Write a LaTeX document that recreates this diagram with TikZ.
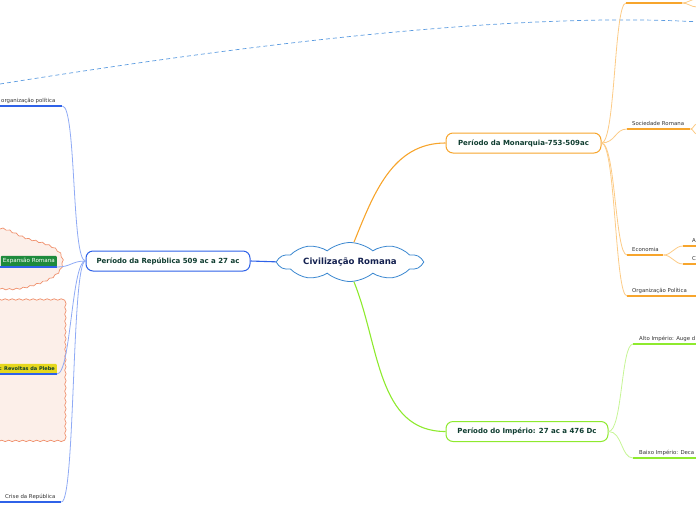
\documentclass[tikz,border=0pt]{standalone}
\usepackage{fontspec}
\setmainfont{DejaVu Sans}
\usetikzlibrary{shapes.symbols,decorations.pathmorphing}
\definecolor{orT}{HTML}{F7A52C}
\definecolor{orL}{HTML}{FCCB86}
\definecolor{grT}{HTML}{8EEA2E}
\definecolor{grL}{HTML}{C6F595}
\definecolor{blT}{HTML}{2F62E8}
\definecolor{blL}{HTML}{8FAAF5}
\definecolor{darkT}{HTML}{0F3D30}
\definecolor{cloudB}{HTML}{3A87D0}
\definecolor{rootT}{HTML}{13204F}
\definecolor{dashB}{HTML}{5B9BE0}
\definecolor{leafT}{HTML}{333333}
\definecolor{blobD}{HTML}{F0906C}
\definecolor{blobF}{HTML}{FCEFE9}
\definecolor{expG}{HTML}{1E8A3C}
\definecolor{revY}{HTML}{E6D81E}
\newcommand\leafbox[3]{\makebox[#1][l]{\hspace*{#2}\smash{#3}}}
\tikzset{
  mainnode/.style={rounded corners=7pt, line width=1pt, fill=white, minimum height=20pt,
    inner sep=2pt, text=darkT, font=\bfseries\fontsize{7}{8}\selectfont},
  leaf/.style={inner xsep=0pt, inner ysep=3pt, text=leafT, font=\fontsize{5.4}{6}\selectfont},
  thickline/.style={line width=1.8pt},
  thinline/.style={line width=0.8pt},
  mainline/.style={line width=1.1pt},
  blob/.style={draw=blobD, fill=blobF, line width=0.7pt, decorate,
    decoration={snake, amplitude=0.7pt, segment length=7pt}}
}
\begin{document}
\begin{tikzpicture}[x=1pt,y=1pt]
\useasboundingbox (0,0) rectangle (696,-520);
% background callouts
\draw[blob] (-6,-230) .. controls (4,-226) and (14,-236) .. (28,-240)
  .. controls (48,-245) and (61,-250) .. (61,-262)
  .. controls (61,-276) and (45,-282) .. (28,-287)
  .. controls (14,-291) and (4,-290) .. (-6,-289) -- cycle;
\draw[blob] (-6,-298) rectangle (62,-440);
% dashed relationship
\coordinate (dA) at (0,-84);
\coordinate (dB) at (700,-22);
\draw[dashB, line width=0.7pt, dash pattern=on 4pt off 3pt] (dA) .. controls (200,-52) and (500,-10) .. (dB);
% main nodes
\node[cloud, cloud puffs=10, cloud puff arc=80, cloud ignores aspect, draw=cloudB, line width=0.8pt,
  fill=white, minimum width=143pt, minimum height=39pt, inner sep=0pt,
  font=\bfseries\fontsize{8.6}{10}\selectfont, text=rootT] (root) at (350,-262) {Civilização Romana};
\node[mainnode, draw=orT, minimum width=155pt] (mon) at (523.5,-143) {Período da Monarquia-753-509ac};
\node[mainnode, draw=grT, minimum width=162pt] (imp) at (527,-431.5) {Período do Império: 27 ac a 476 Dc};
\node[mainnode, draw=blT, minimum width=164pt] (rep) at (168,-261) {Período da República 509 ac a 27 ac};
% main connectors
\draw[orT, mainline] ([xshift=4pt]root.north) to[out=68,in=180] (mon.west);
\draw[grT, mainline] ([xshift=4pt]root.south) to[out=-68,in=180] (imp.west);
\draw[blT, mainline] (root.west) -- (rep.east);
% Monarquia leaves
\coordinate (mtopA) at (626,-3);
\coordinate (mtopB) at (682,-3);
\coordinate (mtopU) at (697,1);
\coordinate (mtopD) at (697,-7);
\draw[orL, thinline] (mon.east) .. controls +(14,0) and +(-12,0) .. (mtopA);
\draw[orT, thickline] (mtopA) -- (mtopB);
\draw[orL, thinline] (mtopB) to[out=0,in=180] (mtopU);
\draw[orL, thinline] (mtopB) to[out=0,in=180] (mtopD);
\node[leaf, anchor=south west] (soc) at (627,-129) {\leafbox{63pt}{5pt}{Sociedade Romana}};
\node[leaf, anchor=south west] (eco) at (627,-255) {\leafbox{36pt}{5pt}{Economia}};
\node[leaf, anchor=south west] (ecoA) at (683,-246) {\leafbox{16pt}{9pt}{A}};
\node[leaf, anchor=south west] (ecoC) at (683,-264) {\leafbox{16pt}{9pt}{C}};
\node[leaf, anchor=south west] (org) at (627,-296) {\leafbox{72pt}{5pt}{Organização Política}};
\foreach \n in {soc,eco,ecoA,ecoC,org} {\draw[orT, thickline] (\n.south west) -- (\n.south east);}
\draw[orL, thinline] (mon.east) .. controls +(14,0) and +(-12,0) .. (soc.south west);
\draw[orL, thinline] (mon.east) .. controls +(14,0) and +(-12,0) .. (eco.south west);
\draw[orL, thinline] (mon.east) .. controls +(14,0) and +(-12,0) .. (org.south west);
\draw[orL, thinline] (eco.south east) to[out=0,in=180] (ecoA.south west);
\draw[orL, thinline] (eco.south east) to[out=0,in=180] (ecoC.south west);
\coordinate (socU) at (697,-124);
\coordinate (socD) at (697,-134);
\draw[orL, thinline] (soc.south east) to[out=0,in=180] (socU);
\draw[orL, thinline] (soc.south east) to[out=0,in=180] (socD);
% Imperio leaves
\node[leaf, anchor=south west] (alto) at (633,-344) {\leafbox{70pt}{6pt}{Alto Império: Auge d}};
\node[leaf, anchor=south west] (baixo) at (633,-458) {\leafbox{70pt}{6pt}{Baixo Império: Deca}};
\foreach \n in {alto,baixo} {\draw[grT, thickline] (\n.south west) -- (\n.south east);}
\draw[grL, thinline] (imp.east) .. controls +(14,0) and +(-12,0) .. (alto.south west);
\draw[grL, thinline] (imp.east) .. controls +(14,0) and +(-12,0) .. (baixo.south west);
% Republica leaves
\node[leaf, anchor=south west] (orgp) at (0,-106) {\leafbox{62pt}{1pt}{organização política}};
\node[leaf, anchor=south west] (crise) at (0,-502) {\leafbox{61pt}{5pt}{Crise da República}};
\node[anchor=south east, fill=expG, text=white, inner xsep=2pt, inner ysep=0pt, minimum height=11pt,
  rounded corners=1pt, font=\fontsize{5.6}{6}\selectfont] (exp) at (57,-267) {Expansão Romana};
\node[anchor=south east, fill=revY, text=darkT, inner xsep=2pt, inner ysep=0pt, minimum height=10pt,
  rounded corners=1pt, font=\bfseries\fontsize{5}{6}\selectfont] (rev) at (57,-374) {: Revoltas da Plebe};
\draw[blT, thickline] (orgp.south west) -- (orgp.south east);
\draw[blT, thickline] (crise.south west) -- (crise.south east);
\draw[blT, thickline] ([xshift=-6pt]exp.south west) -- (exp.south east);
\draw[blT, thickline] ([xshift=-6pt]rev.south west) -- (rev.south east);
\draw[blL, thinline] (rep.west) .. controls +(-14,0) and +(14,0) .. (orgp.south east);
\draw[blL, thinline] (rep.west) .. controls +(-14,0) and +(14,0) .. (exp.south east);
\draw[blL, thinline] (rep.west) .. controls +(-14,0) and +(14,0) .. (rev.south east);
\draw[blL, thinline] (rep.west) .. controls +(-14,0) and +(14,0) .. (crise.south east);
\end{tikzpicture}
\end{document}
